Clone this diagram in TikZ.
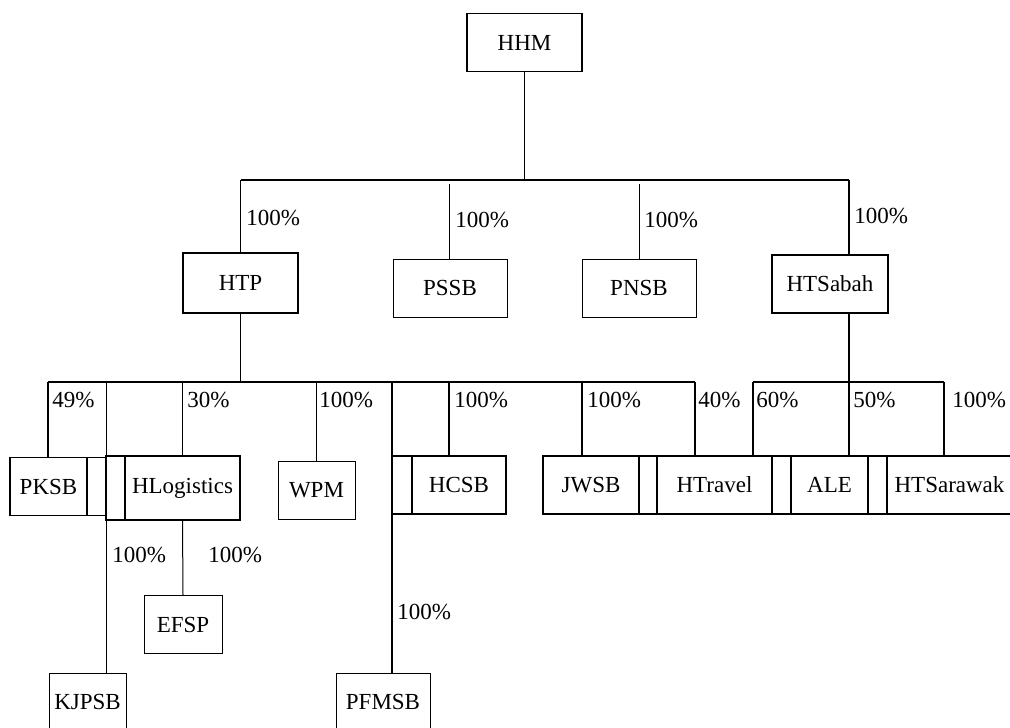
\documentclass[tikz,border=0pt]{standalone}
\usepackage{fontspec}
\setmainfont{Liberation Serif}
\tikzset{
  unit/.style={draw, rectangle, inner sep=0pt, line width=0.8pt, minimum height=29pt},
  wd/.style={minimum width=#1*0.5pt},
  pct/.style={anchor=west, inner sep=0pt},
  link/.style={line width=0.9pt},
  thinlink/.style={line width=0.5pt}
}
\begin{document}
\begin{tikzpicture}[x=0.5pt, y=-0.5pt, font=\fontsize{11.5}{13}\selectfont]
    \useasboundingbox (0,0) rectangle (1010,727);
    \node[unit, wd=115] (hhm) at (524.5,42.5) {HHM};
    \node[unit, wd=115, line width=1pt, minimum height=30pt] (htp) at (240.5,283) {HTP};
    \node[unit, wd=114, line width=0.5pt] (pssb) at (450,288) {PSSB};
    \node[unit, wd=114, line width=0.5pt] (pnsb) at (639,288) {PNSB};
    \node[unit, wd=116, line width=1pt] (htsabah) at (830,283.5) {HTSabah};
    \node[unit, wd=77] (pksb) at (48.5,486.5) {PKSB};
    \node[unit, wd=19] (pksbstub) at (96.5,486.5) {};
    \node[unit, wd=19, minimum height=32pt] (hlogstub) at (115.5,488) {};
    \node[unit, wd=115, minimum height=32pt] (hlog) at (182.5,488) {HLogistics};
    \node[unit, wd=77, line width=0.5pt] (wpm) at (316.5,490) {WPM};
    \node[unit, wd=20] (hcsbstub) at (402,485) {};
    \node[unit, wd=94] (hcsb) at (459,485) {HCSB};
    \node[unit, wd=96] (jwsb) at (591,485) {JWSB};
    \node[unit, wd=18] (jwsbstub) at (648,485) {};
    \node[unit, wd=115] (htravel) at (714.5,485) {HTravel};
    \node[unit, wd=19] (htravelstub) at (781.5,485) {};
    \node[unit, wd=77] (ale) at (829.5,485) {ALE};
    \node[unit, wd=19] (alestub) at (877.5,485) {};
    \node[unit, wd=125] (htsarawak) at (949.5,485) {HTSarawak};
    \node[unit, wd=78, line width=0.5pt] (efsp) at (183,624.5) {EFSP};
    \node[unit, wd=77, line width=0.5pt] (kjpsb) at (87.5,702) {KJPSB};
    \node[unit, wd=94, line width=0.5pt] (pfmsb) at (383,702) {PFMSB};
    \coordinate (top) at (524.5,180);
    \coordinate (topl) at (240.5,180);
    \coordinate (topr) at (849,180);
    \coordinate (pssbtop) at (449,184);
    \coordinate (pnsbtop) at (639,184);
    \coordinate (midl) at (48,382);
    \coordinate (midr) at (695,382);
    \coordinate (kjline) at (106,382);
    \coordinate (wpmtop) at (316,382);
    \coordinate (pfline) at (392,382);
    \coordinate (hcsbtop) at (449,382);
    \coordinate (jwsbtop) at (582,382);
    \coordinate (rightl) at (753,382);
    \coordinate (rightr) at (944,382);
    \draw [link] (hhm) to (top);
    \draw [link] (topl) to (topr);
    \draw [link] (topl) to (htp.north);
    \draw [thinlink] (pssbtop) to (pssbtop |- pssb.north);
    \draw [thinlink] (pnsbtop) to (pnsbtop |- pnsb.north);
    \draw [link] (topr) to (topr |- htsabah.north);
    \draw [link] (htp.south) to (htp.south |- midl);
    \draw [link] (midl) to (midr);
    \draw [link] (midl) to (midl |- pksb.north);
    \draw [thinlink] (kjline) to (kjline |- kjpsb.north);
    \draw [link] (hlog.north |- midl) to (hlog.north);
    \draw [thinlink] (hlog.south) to (efsp.north);
    \draw [thinlink] (wpmtop) to (wpmtop |- wpm.north);
    \draw [link] (pfline) to (pfline |- pfmsb.north);
    \draw [link] (hcsbtop) to (hcsbtop |- hcsb.north);
    \draw [link] (jwsbtop) to (jwsbtop |- jwsb.north);
    \draw [link] (midr) to (midr |- htravel.north);
    \draw [link] (rightl) to (rightr);
    \draw [link] (topr |- htsabah.south) to (topr |- ale.north);
    \draw [link] (rightl) to (rightl |- htravel.north);
    \draw [link] (rightr) to (rightr |- htsarawak.north);
    \node[pct] (htppct) at (246,218) {100\%};
    \node[pct] (pssbpct) at (455,220) {100\%};
    \node[pct] (pnsbpct) at (644,220) {100\%};
    \node[pct] (htsabahpct) at (854,216) {100\%};
    \node[pct] (pksbpct) at (52,400) {49\%};
    \node[pct] (hlogpct) at (187,400) {30\%};
    \node[pct] (wpmpct) at (319,400) {100\%};
    \node[pct] (hcsbpct) at (454,400) {100\%};
    \node[pct] (jwsbpct) at (587,400) {100\%};
    \node[pct] (htravelpct) at (698,400) {40\%};
    \node[pct] (htsabahtrpct) at (756,400) {60\%};
    \node[pct] (alepct) at (853,400) {50\%};
    \node[pct] (htsarawakpct) at (952,400) {100\%};
    \node[pct] (kjpsbpct) at (112,555) {100\%};
    \node[pct] (efsppct) at (208,555) {100\%};
    \node[pct] (pfmsbpct) at (397,612) {100\%};
  \end{tikzpicture}
\end{document}
